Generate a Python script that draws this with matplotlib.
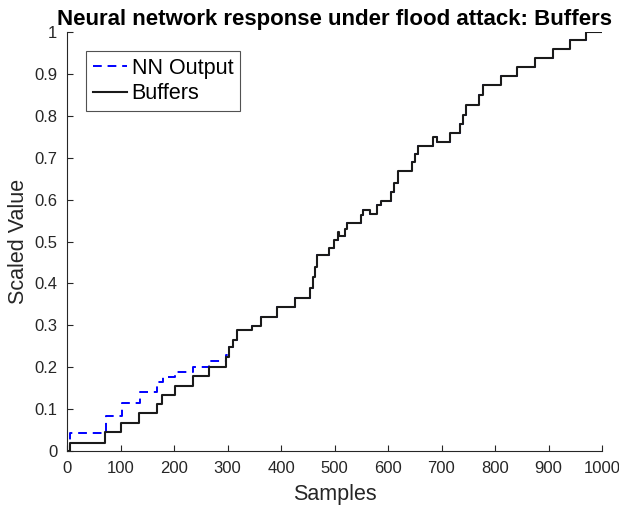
import numpy as np
import matplotlib
matplotlib.use('Agg')
import matplotlib.pyplot as plt

plt.rcParams['font.family'] = ['Liberation Sans', 'DejaVu Sans']

# step start sample / value for the buffer signal
buf_x = [0, 6, 71, 101, 135, 168, 177, 202, 235, 265, 297, 303, 311, 317, 345,
         362, 392, 427, 455, 459, 463, 467, 489, 499, 506, 509, 519, 524, 549,
         553, 567, 579, 586, 605, 611, 619, 645, 650, 656, 685, 691, 715, 735,
         741, 746, 771, 778, 811, 841, 875, 908, 940, 971, 1000]
buf_y = [0, 0.02, 0.046, 0.068, 0.09, 0.112, 0.134, 0.156, 0.179, 0.201, 0.225,
         0.249, 0.265, 0.289, 0.298, 0.321, 0.343, 0.366, 0.39, 0.415, 0.44,
         0.468, 0.484, 0.504, 0.523, 0.512, 0.531, 0.543, 0.563, 0.575, 0.566,
         0.587, 0.597, 0.619, 0.639, 0.668, 0.69, 0.71, 0.728, 0.749, 0.738,
         0.758, 0.78, 0.802, 0.826, 0.85, 0.873, 0.895, 0.917, 0.937, 0.959,
         0.981, 1.0, 1.0]

# network output: differs in the first ~300 samples, then follows buffers
nn_x = [0, 5, 73, 102, 136, 169, 180, 202, 235, 265, 297] + buf_x[11:]
nn_y = [0, 0.042, 0.084, 0.115, 0.142, 0.165, 0.177, 0.189, 0.201, 0.215,
        0.229] + buf_y[11:]

xticks = np.arange(0, 1001, 100)
yticks = np.round(np.arange(0, 1.01, 0.1), 1)
ytick_labels = ['0', '0.1', '0.2', '0.3', '0.4', '0.5', '0.6', '0.7', '0.8', '0.9', '1']

fig = plt.figure(figsize=(6.19, 5.12), dpi=100)
ax = fig.add_axes([67 / 619, 61 / 512, 535 / 619, 419 / 512])

ax.step(nn_x, nn_y, where='post', color='#0000ff', linestyle=(0, (4.5, 3)),
        lw=1.4, label='NN Output')
ax.step(buf_x, buf_y, where='post', color='#1a1a1a', lw=1.5, label='Buffers')

ax.set_xlim(0, 1000)
ax.set_ylim(0, 1)
ax.set_xticks(xticks)
ax.set_yticks(yticks)
ax.set_yticklabels(ytick_labels)

for s in ['top', 'right']:
    ax.spines[s].set_visible(False)
for s in ['left', 'bottom']:
    ax.spines[s].set_color('#262626')
    ax.spines[s].set_linewidth(0.8)
ax.tick_params(direction='in', length=4, width=0.8, color='#262626',
               labelsize=12, labelcolor='#262626', pad=7)

ax.set_xlabel('Samples', fontsize=15.5, color='#262626', labelpad=6)
ax.set_ylabel('Scaled Value', fontsize=15.5, color='#262626', labelpad=4)
ax.set_title('Neural network response under flood attack: Buffers',
             fontsize=16, fontweight='bold', pad=5)

leg = ax.legend(loc='upper left', fontsize=15.5, frameon=True, fancybox=False,
                edgecolor='#262626', handlelength=1.6, handletextpad=0.2,
                borderaxespad=0.9, borderpad=0.3, labelspacing=0.2)
leg.get_frame().set_linewidth(0.8)

fig.savefig('out.png', dpi=100)
